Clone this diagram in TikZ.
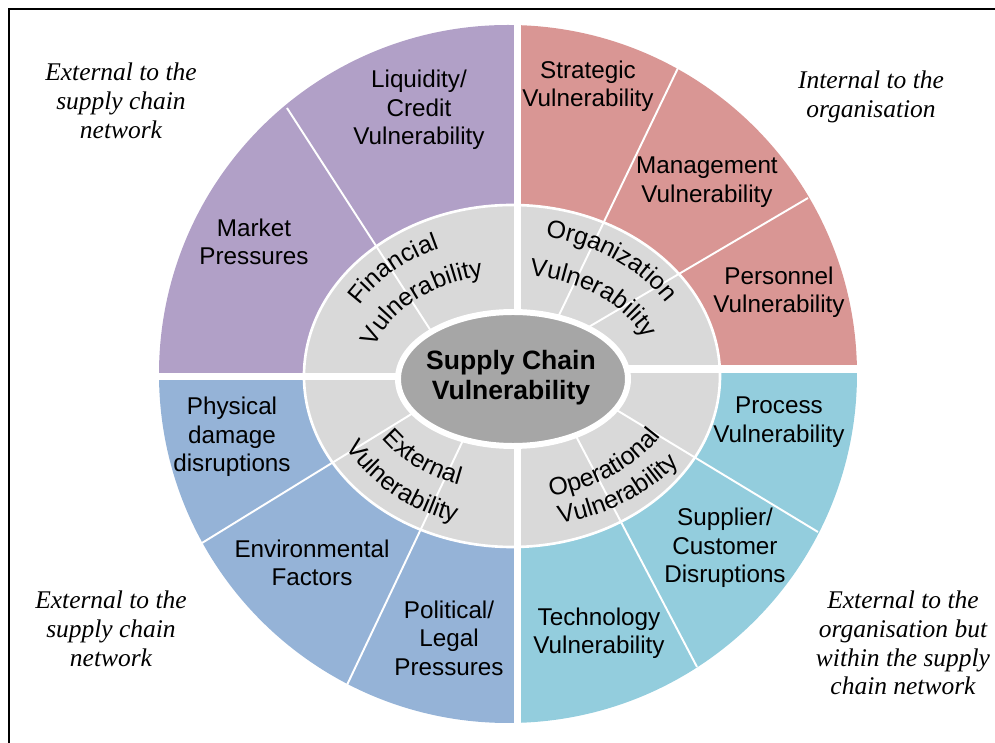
\documentclass[tikz,border=0pt]{standalone}
\usepackage{fontspec}
\setmainfont{Liberation Sans}
\newfontfamily\notefont{Liberation Serif}
\usetikzlibrary{decorations.text}
\definecolor{finpurple}{HTML}{B1A0C7}
\definecolor{orgred}{HTML}{D99694}
\definecolor{extblue}{HTML}{95B3D7}
\definecolor{opcyan}{HTML}{93CDDD}
\definecolor{ringgray}{HTML}{D9D9D9}
\definecolor{coregray}{HTML}{A6A6A6}
\newcommand{\ringfont}{\fontsize{14.2}{16}\selectfont}

\begin{document}
\begin{tikzpicture}[x=0.02cm, y=0.02cm,
    label/.style={align=center, inner sep=0pt, font=\fontsize{13.8}{16.2}\selectfont},
    note/.style={align=center, inner sep=0pt, font=\notefont\itshape\fontsize{14.5}{16.4}\selectfont},
    divider/.style={white, line width=1.1pt},
    ringtext/.style={decorate, decoration={text along path, text align=center, text={|\ringfont|#1}}}]
  \useasboundingbox (-512,-367) rectangle (483,376);
  % frame
  \draw[line width=1.2pt] (-503,-380) -- (-503,367) -- (500,367);
  % outer quadrants
  \foreach \col/\xa/\ya/\xb/\yb in {finpurple/-400/-0.5/6/400, orgred/6/7/400/400, extblue/-400/-400/6/-0.5, opcyan/6/-400/400/7} {
    \begin{scope}
      \clip (\xa,\ya) rectangle (\xb,\yb);
      \fill[\col] (-4,2) circle[radius=349];
    \end{scope}
  }
  % inner ring
  \filldraw[fill=ringgray, draw=white, line width=1.5pt] (0,0) ellipse[x radius=208, y radius=171];
  % gaps
  \fill[white] (2.5,-360) rectangle (9.5,360);
  \fill[white] (-360,-4) rectangle (6,3);
  \fill[white] (6,3) rectangle (360,11);
  % dividers
  \draw[divider] (-225,268) -- (-70,28);
  \draw[divider] (166,308) -- (36,38);
  \draw[divider] (296,178) -- (58,38);
  \draw[divider] (-310,-167) -- (-81,-26);
  \draw[divider] (-165,-309) -- (-37,-39);
  \draw[divider] (306,-156) -- (88,-24);
  \draw[divider] (185,-291) -- (54,-41);
  % core
  \filldraw[fill=coregray, draw=white, line width=3.4pt] (1,-3) ellipse[x radius=115, y radius=67];
  \node[align=center, inner sep=0pt, font=\bfseries\fontsize{15.1}{17}\selectfont] (core) at (-1,-2) {Supply Chain\\Vulnerability};
  % ring labels
  \path[ringtext=Financial] ({177*cos(174)},{140*sin(174)}) arc[start angle=174, end angle=94, x radius=177, y radius=140];
  \path[ringtext=Vulnerability] ({143*cos(180)},{102*sin(180)}) arc[start angle=180, end angle=90, x radius=143, y radius=102];
  \path[ringtext=Organization] ({179*cos(98)},{142*sin(98)}) arc[start angle=98, end angle=8, x radius=179, y radius=142];
  \path[ringtext=Vulnerability] ({142*cos(95)},{101*sin(95)}) arc[start angle=95, end angle=5, x radius=142, y radius=101];
  \path[ringtext=External] ({154*cos(183)},{116*sin(183)}) arc[start angle=183, end angle=273, x radius=154, y radius=116];
  \path[ringtext=Vulnerability] ({188*cos(183)},{153*sin(183)}) arc[start angle=183, end angle=273, x radius=188, y radius=153];
  \path[ringtext=Operational] ({170*cos(-95)},{124*sin(-95)}) arc[start angle=-95, end angle=-5, x radius=170, y radius=124];
  \path[ringtext=Vulnerability] ({204*cos(-98)},{152*sin(-98)}) arc[start angle=-98, end angle=-8, x radius=204, y radius=152];
  % outer labels
  \node[label] (liq) at (-93,266) {Liquidity/\\Credit\\Vulnerability};
  \node[label] (mkt) at (-258,134) {Market\\Pressures};
  \node[label] (strat) at (76,290) {Strategic\\Vulnerability};
  \node[label] (mgmt) at (195,194) {Management\\Vulnerability};
  \node[label] (pers) at (267,84) {Personnel\\Vulnerability};
  \node[label] (phys) at (-280,-61) {Physical\\damage\\disruptions};
  \node[label] (env) at (-200,-187) {Environmental\\Factors};
  \node[label] (pol) at (-63,-262) {Political/\\Legal\\Pressures};
  \node[label] (proc) at (267,-46) {Process\\Vulnerability};
  \node[label] (supp) at (213,-172) {Supplier/\\Customer\\Disruptions};
  \node[label] (tech) at (87,-257) {Technology\\Vulnerability};
  % notes
  \node[note] (noteTL) at (-391,275) {External to the\\supply chain\\network};
  \node[note] (noteTR) at (359,279) {Internal to the\\organisation};
  \node[note] (noteBL) at (-401,-253) {External to the\\supply chain\\network};
  \node[note] (noteBR) at (391,-267) {External to the\\organisation but\\within the supply\\chain network};
\end{tikzpicture}
\end{document}
